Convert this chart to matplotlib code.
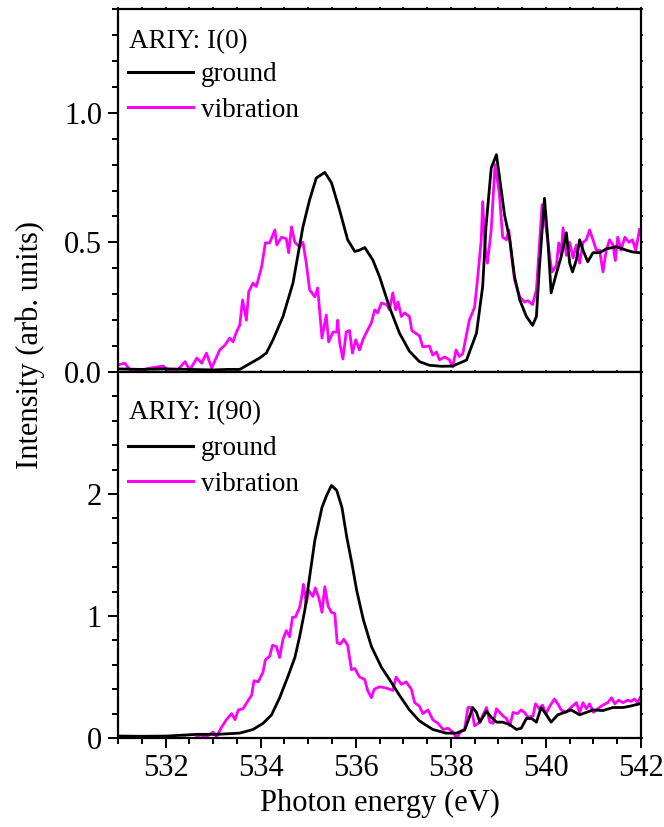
import numpy as np
import matplotlib
matplotlib.use("Agg")
import matplotlib.pyplot as plt
from matplotlib.ticker import MultipleLocator, FormatStrFormatter, FixedLocator

plt.rcParams['font.family'] = ['Liberation Serif', 'DejaVu Serif']
plt.rcParams['mathtext.fontset'] = 'stix'

# ---------------- data: top panel I(0) ----------------
top_ground_E = [531.0, 531.5, 532.0, 532.5, 533.0, 533.3, 533.56, 533.98, 534.12, 534.26, 534.47,
                534.68, 534.89, 535.03, 535.17, 535.35, 535.49, 535.66, 535.83, 535.98, 536.08,
                536.19, 536.36, 536.5, 536.71, 536.92, 537.13, 537.34, 537.55, 537.8, 538.04,
                538.33, 538.54, 538.67, 538.74, 538.85, 538.96, 539.06, 539.13, 539.24, 539.34,
                539.45, 539.59, 539.72, 539.8, 539.86, 539.97, 540.04, 540.11, 540.22, 540.32,
                540.43, 540.5, 540.56, 540.64, 540.71, 540.78, 540.88, 540.99, 541.13, 541.27,
                541.48, 541.69, 541.82, 541.97]
top_ground_I = [0.012, 0.010, 0.012, 0.010, 0.008, 0.010, 0.010, 0.054, 0.073, 0.124, 0.214,
                0.343, 0.560, 0.664, 0.748, 0.770, 0.730, 0.625, 0.510, 0.465, 0.470,
                0.480, 0.432, 0.368, 0.250, 0.150, 0.080, 0.040, 0.026, 0.022, 0.023,
                0.046, 0.150, 0.330, 0.560, 0.787, 0.838, 0.703, 0.606, 0.510, 0.368,
                0.278, 0.214, 0.180, 0.214, 0.394, 0.670, 0.510, 0.305, 0.380, 0.444,
                0.537, 0.420, 0.386, 0.432, 0.510, 0.470, 0.425, 0.460, 0.460, 0.475,
                0.483, 0.470, 0.463, 0.460]

top_vib_E = [531.0, 531.14, 531.29, 531.43, 531.67, 531.95, 532.05, 532.24, 532.41, 532.51,
             532.66, 532.76, 532.86, 532.97, 533.14, 533.25, 533.35, 533.42, 533.49, 533.56,
             533.62, 533.7, 533.75, 533.84, 533.91, 534.02, 534.1, 534.19, 534.3, 534.34,
             534.44, 534.54, 534.59, 534.65, 534.72, 534.82, 534.89, 534.96, 535.03, 535.14,
             535.2, 535.24, 535.29, 535.38, 535.43, 535.52, 535.6, 535.62, 535.66, 535.73,
             535.8, 535.87, 535.93, 536.0, 536.08, 536.15, 536.25, 536.33, 536.4, 536.46,
             536.54, 536.65, 536.71, 536.78, 536.84, 536.89, 536.96, 537.03, 537.13, 537.18,
             537.28, 537.34, 537.41, 537.55, 537.62, 537.7, 537.76, 537.87, 537.97, 538.04,
             538.11, 538.18, 538.25, 538.32, 538.39, 538.5, 538.56, 538.64, 538.67, 538.72,
             538.77, 538.85, 538.93, 539.02, 539.09, 539.17, 539.22, 539.28, 539.34, 539.45,
             539.55, 539.62, 539.72, 539.8, 539.92, 540.01, 540.08, 540.13, 540.22, 540.27,
             540.32, 540.36, 540.43, 540.5, 540.57, 540.64, 540.71, 540.78, 540.85, 540.92,
             540.99, 541.06, 541.13, 541.2, 541.27, 541.34, 541.41, 541.46, 541.51, 541.58,
             541.66, 541.75, 541.82, 541.89, 541.97]
top_vib_I = [0.027, 0.034, 0.000, 0.005, 0.015, 0.023, 0.008, 0.005, 0.040, 0.008,
             0.054, 0.034, 0.073, 0.015, 0.085, 0.104, 0.131, 0.116, 0.154, 0.180,
             0.278, 0.200, 0.310, 0.343, 0.330, 0.405, 0.498, 0.498, 0.548, 0.490,
             0.520, 0.514, 0.460, 0.560, 0.500, 0.483, 0.500, 0.420, 0.317, 0.290,
             0.324, 0.240, 0.131, 0.220, 0.116, 0.154, 0.154, 0.200, 0.116, 0.050,
             0.154, 0.160, 0.073, 0.124, 0.085, 0.124, 0.162, 0.190, 0.240, 0.228,
             0.266, 0.260, 0.240, 0.305, 0.240, 0.270, 0.214, 0.228, 0.214, 0.160,
             0.147, 0.140, 0.097, 0.100, 0.065, 0.077, 0.047, 0.058, 0.047, 0.020,
             0.085, 0.060, 0.070, 0.135, 0.200, 0.250, 0.355, 0.510, 0.657, 0.483,
             0.420, 0.548, 0.800, 0.690, 0.520, 0.510, 0.548, 0.444, 0.355, 0.290,
             0.270, 0.275, 0.260, 0.317, 0.645, 0.548, 0.444, 0.386, 0.410, 0.498,
             0.450, 0.556, 0.450, 0.500, 0.440, 0.490, 0.420, 0.500, 0.510, 0.548,
             0.510, 0.470, 0.470, 0.386, 0.470, 0.510, 0.490, 0.430, 0.520, 0.470,
             0.520, 0.500, 0.510, 0.470, 0.550]

# ---------------- data: bottom panel I(90) ----------------
bot_ground_E = [531.0, 531.5, 532.03, 532.66, 533.08, 533.56, 533.84, 534.05, 534.23, 534.4,
                534.57, 534.72, 534.82, 534.93, 535.03, 535.14, 535.29, 535.39, 535.49, 535.6,
                535.71, 535.81, 535.92, 536.02, 536.16, 536.33, 536.54, 536.71, 536.92, 537.13,
                537.34, 537.62, 537.9, 538.12, 538.29, 538.39, 538.46, 538.54, 538.61, 538.75,
                538.85, 538.96, 539.09, 539.24, 539.38, 539.48, 539.59, 539.7, 539.8, 539.9,
                540.01, 540.11, 540.25, 540.39, 540.53, 540.71, 540.85, 540.99, 541.2, 541.41,
                541.62, 541.76, 541.97]
bot_ground_I = [0.016, 0.014, 0.016, 0.030, 0.030, 0.040, 0.070, 0.120, 0.190, 0.330,
                0.500, 0.660, 0.830, 1.050, 1.320, 1.620, 1.890, 1.990, 2.070, 2.030,
                1.890, 1.650, 1.430, 1.210, 0.970, 0.750, 0.580, 0.480, 0.350, 0.230,
                0.140, 0.070, 0.040, 0.040, 0.065, 0.170, 0.250, 0.210, 0.130, 0.220,
                0.170, 0.130, 0.130, 0.110, 0.070, 0.080, 0.160, 0.160, 0.130, 0.250,
                0.190, 0.130, 0.190, 0.210, 0.230, 0.190, 0.210, 0.230, 0.225, 0.250,
                0.250, 0.260, 0.280]

bot_vib_E = [531.0, 531.4, 531.8, 531.95, 532.1, 532.4, 532.55, 532.72, 532.86, 533.0, 533.07,
             533.18, 533.28, 533.39, 533.46, 533.53, 533.63, 533.74, 533.81, 533.86, 533.95,
             534.05, 534.1, 534.19, 534.25, 534.33, 534.4, 534.47, 534.54, 534.61, 534.67,
             534.73, 534.82, 534.86, 534.9, 534.96, 535.01, 535.1, 535.15, 535.23, 535.29,
             535.35, 535.42, 535.49, 535.56, 535.61, 535.68, 535.75, 535.83, 535.91, 535.98,
             536.08, 536.19, 536.25, 536.33, 536.39, 536.5, 536.64, 536.78, 536.85, 536.96,
             537.06, 537.17, 537.24, 537.34, 537.41, 537.52, 537.62, 537.73, 537.84, 537.94,
             538.04, 538.12, 538.22, 538.29, 538.36, 538.43, 538.5, 538.61, 538.68, 538.75,
             538.82, 538.89, 538.96, 539.03, 539.1, 539.17, 539.24, 539.31, 539.4, 539.48,
             539.55, 539.62, 539.73, 539.78, 539.86, 539.93, 540.0, 540.08, 540.18, 540.25,
             540.32, 540.42, 540.53, 540.64, 540.71, 540.78, 540.85, 540.92, 541.0, 541.09,
             541.2, 541.3, 541.38, 541.45, 541.53, 541.62, 541.72, 541.79, 541.86, 541.93,
             541.98]
bot_vib_I = [-0.03, -0.02, -0.03, 0.005, -0.02, 0.002, -0.02, 0.025, 0.010, 0.050, 0.010,
             0.090, 0.150, 0.200, 0.150, 0.230, 0.240, 0.310, 0.350, 0.470, 0.460,
             0.540, 0.640, 0.670, 0.760, 0.750, 0.660, 0.810, 0.880, 0.830, 0.990,
             0.990, 1.070, 1.150, 1.260, 1.100, 1.210, 1.160, 1.230, 1.140, 1.030,
             1.240, 1.080, 1.030, 1.020, 0.780, 0.770, 0.810, 0.760, 0.560, 0.570,
             0.500, 0.480, 0.390, 0.330, 0.400, 0.420, 0.410, 0.390, 0.500, 0.440,
             0.460, 0.400, 0.290, 0.260, 0.200, 0.230, 0.150, 0.120, 0.070, 0.080,
             0.050, 0.000, 0.060, 0.070, 0.250, 0.250, 0.100, 0.130, 0.190, 0.250,
             0.130, 0.120, 0.240, 0.210, 0.180, 0.160, 0.100, 0.210, 0.200, 0.230,
             0.210, 0.170, 0.180, 0.280, 0.240, 0.270, 0.200, 0.260, 0.320, 0.280,
             0.230, 0.210, 0.250, 0.290, 0.210, 0.290, 0.240, 0.280, 0.210, 0.240,
             0.270, 0.290, 0.330, 0.280, 0.310, 0.290, 0.310, 0.300, 0.320, 0.290,
             0.330]

panel_titles = ["ARIY: I(0)", "ARIY: I(90)"]
series_labels = ["ground", "vibration"]
xlabel = "Photon energy (eV)"
ylabel = "Intensity (arb. units)"

# ---------------- figure ----------------
W, H = 664, 827
fig = plt.figure(figsize=(W / 100, H / 100), dpi=100)
L, R = 118 / W, 641 / W
ax1 = fig.add_axes([L, 1 - 372 / H, R - L, (372 - 9) / H])
ax2 = fig.add_axes([L, 1 - 738 / H, R - L, (738 - 372) / H], sharex=ax1)

BLACK = "#000000"
MAG = "#ff00ff"
LW = 2.0
FS = 22
LFS = 19.5

ax1.plot(top_ground_E, top_ground_I, color=BLACK, lw=LW, label=series_labels[0], zorder=3)
ax1.plot(top_vib_E, top_vib_I, color=MAG, lw=LW, label=series_labels[1], zorder=2)
ax2.plot(bot_ground_E, bot_ground_I, color=BLACK, lw=LW, label=series_labels[0], zorder=3)
ax2.plot(bot_vib_E, bot_vib_I, color=MAG, lw=LW, label=series_labels[1], zorder=2)

ax1.set_xlim(531, 542)
ax1.set_ylim(0, 1.4)
ax2.set_ylim(0, 3.0)

ax1.yaxis.set_major_locator(FixedLocator([0.0, 0.5, 1.0]))
ax1.yaxis.set_minor_locator(MultipleLocator(0.1))
ax1.yaxis.set_major_formatter(FormatStrFormatter("%.1f"))
ax2.yaxis.set_major_locator(FixedLocator([0, 1, 2]))
ax2.yaxis.set_minor_locator(MultipleLocator(0.2))
ax2.xaxis.set_major_locator(MultipleLocator(2))
ax2.xaxis.set_minor_locator(MultipleLocator(0.5))

for ax in (ax1, ax2):
    for sp in ax.spines.values():
        sp.set_linewidth(1.6)
    ax.tick_params(which="major", direction="out", length=7.5, width=1.4,
                   labelsize=FS, pad=4)
    ax.tick_params(which="minor", direction="out", length=4, width=1.4)
    ax.tick_params(axis="both", which="both", top=False, right=False)
    # tiny marks on the top / right edges
    sx = ax.secondary_xaxis("top")
    sx.xaxis.set_major_locator(MultipleLocator(0.5))
    sx.tick_params(direction="out", length=1.5, width=1.2, labeltop=False)
    sy = ax.secondary_yaxis("right")
    sy.yaxis.set_major_locator(MultipleLocator(0.1 if ax is ax1 else 0.2))
    sy.tick_params(direction="out", length=1.5, width=1.2, labelright=False)
    for s in (sx, sy):
        for sp in s.spines.values():
            sp.set_visible(False)

ax1.tick_params(axis="x", which="both", labelbottom=False)
ax2.set_xlabel(xlabel, fontsize=FS, labelpad=4)
fig.text(30 / W, 1 - 345 / H, ylabel, rotation=90, fontsize=FS, ha="center", va="center")

# panel titles + legends (offsets in pixels from the axes' top-left corner)
ax_w = 523.0
for ax, title, h, t_off, l_off in zip((ax1, ax2), panel_titles, (363.0, 366.0),
                                      (33.0, 41.0), (45.0, 56.0)):
    ax.text(11 / ax_w, 1 - t_off / h, title, transform=ax.transAxes,
            fontsize=LFS, ha="left", va="center")
    leg = ax.legend(loc="upper left", bbox_to_anchor=(2 / ax_w, 1 - l_off / h),
                    frameon=False, fontsize=LFS, handlelength=2.4,
                    handletextpad=0.3, borderaxespad=0.0, borderpad=0.3,
                    labelspacing=0.4)
    for ln in leg.get_lines():
        ln.set_linewidth(2.2)

fig.savefig("out.png", dpi=100)
